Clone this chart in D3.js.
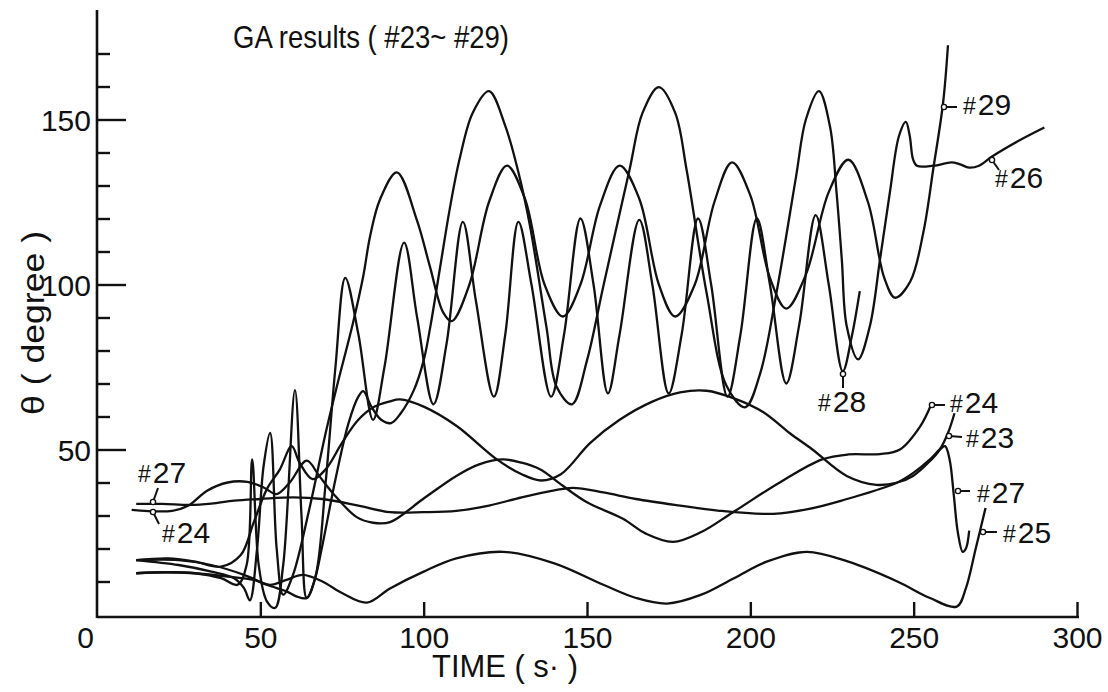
<!DOCTYPE html>
<html>
<head>
<meta charset="utf-8">
<script src="https://cdn.jsdelivr.net/npm/d3@7"></script>
<style>
  html, body { margin: 0; padding: 0; background: #fff; }
  svg { display: block; }
  text { font-family: "Liberation Sans", Arial, sans-serif; fill: #111; }
</style>
</head>
<body>
<svg id="chart" width="1108" height="692"></svg>
<script>
// ---- data: [time (s), theta (degree)] ----
const run23 = [[12,16.5],[22,17],[30,16],[38,14.5],[44,18],[48,28],[52,38],[56,44],[59.6,51],[62,46],[66,41],[70,44],[75,52],[80,59],[85,63],[89.7,64.6],[92.7,65.2],[100,63],[110,57.2],[122.4,47],[130,42.5],[136,40.6],[142,42.5],[151,52],[160,59],[170,64.5],[178.5,67.3],[186.6,67.8],[195,65.5],[204,61.3],[212,55],[219,50],[229.5,42],[238.6,39.3],[245,40],[249.8,42],[255,46.5],[258,50],[260.5,55],[262.5,61]];
const run24 = [[10.6,31.7],[23,31.4],[28,33],[33.7,37.5],[40,40],[46,40.2],[51,38.5],[55,36.5],[59,40],[64.2,46.6],[68,42],[72,37],[79.5,29.5],[84.5,27.8],[89.7,28],[99.8,35],[110,42],[117,45.5],[124.3,47],[130,46],[135.6,44],[142.6,39],[150,34],[161,29],[168,24.5],[176.3,22],[185,25],[194.7,31],[209,40],[222,47],[230,48.5],[239.7,48.6],[245.8,50],[252,57],[255.4,63.7]];
const run25 = [[12,12.5],[20,12.8],[30,12.5],[40,11.5],[48,10.5],[53,9],[58,10.5],[63,12],[69,10],[75,6.5],[82.6,3.6],[89.7,7.9],[100,13],[110,17],[124.3,19],[140,15.5],[155,9],[165,5],[174.5,3.3],[185,6],[195,11],[205,16],[217.3,19],[230,16],[245,10],[255,5],[263.2,2.4],[266,8],[269,20],[272,32.3]];
const run26 = [[12,16.5],[25,16.5],[35,15],[45,12],[52,9],[58,7],[61,5.5],[64.2,5],[66.5,10],[69,21],[73,41],[77,58],[80,66],[81.5,67.7],[84,63],[87,59],[90,58],[93,61],[97,68],[100,77],[102,87],[105,105],[108,123],[111,138],[115,152],[120,158.6],[125,148],[129,134],[132.5,118],[137.6,87],[140.7,69],[145.4,63.7],[150,77],[155,99.5],[163,134.7],[167,152],[172,159.8],[177,152],[180.5,134.7],[186.6,97.5],[192.7,69.3],[198.4,62.8],[203,73],[208,97.5],[214,132.7],[217,150],[221,158.6],[224.4,147.8],[226.4,127.8],[228,107.6],[229.5,87.4],[233,77.3],[236.6,87.4],[239.7,107.6],[242.7,127.8],[245.5,145],[247.6,149.3],[248.8,145],[249.8,138],[251,136],[256,136],[261.6,137],[264,136.5],[267,135.4],[270,136],[274,138.8],[282,143.5],[290,147.6]];
const run27 = [[12,33.5],[20,33.5],[28.5,33.2],[35,33.6],[42,34.5],[50,35],[60,35.5],[69,35],[80,33],[89.7,31],[100,31],[110,31.4],[120,33],[130,35.5],[140,37.6],[145.7,38.4],[155,37],[165,35],[178.5,33],[190,31.5],[207,30.5],[218,32],[229.6,35],[238,37.5],[245,40],[250,43],[255,47],[258,50],[259.6,51],[261,47],[262.3,36],[263.5,25],[265,19],[266,20],[267,25.4]];
const run28 = [[12,12.5],[22,12.8],[30,12.5],[38,11],[43,9],[45.8,15],[47.5,47],[49.5,15],[52,4],[54.5,2],[57,15],[60.6,68],[62.6,30],[64.2,5],[67,12],[70,40],[73,75],[76,102],[80,85],[84.5,59],[88,75],[94,112.7],[98,90],[103,63.7],[107,82],[112,119],[116,95],[121.5,66],[125,85],[129,119],[133,100],[139,66],[143,85],[148,120],[152,100],[156.4,67],[160,85],[166,119.6],[170,100],[175,67],[179,85],[184,120],[188,100],[193,66],[197,85],[202,120],[206,100],[211,70],[215,88],[220,121],[224,100],[228.3,73.7],[231,84],[233.5,98]];
const run29 = [[12,16.5],[25,15],[35,13],[42,11],[45,8],[46.8,4.3],[49,20],[51,45],[53,55],[55,20],[57,6],[60,12],[65,32],[70,55],[73.4,69],[78.4,88.5],[81.5,102.5],[83.6,114.6],[86.6,125.7],[91.8,134],[97.9,119.6],[101.9,105.5],[106,91.5],[108.6,88.9],[114,100],[120,125],[125.5,136],[131,126],[137,100],[142.6,90.3],[148,100],[154,124],[160,136],[166,126],[172,100],[177,90.3],[183,100],[189,125],[194.4,137],[200,127],[206,102],[211,92.7],[217,103],[224,128],[230,137.8],[236,125],[241,102],[244.3,96],[249,101],[253,116],[256,135],[259,155],[260.5,172.5]];

const series = [run23, run24, run25, run26, run27, run28, run29];

// curve labels: name, text position (px) and the little pointer mark (px)
const labels = [
  { name: "29", tx: 963, ty: 115, mark: [[944,107],[957,107]] },
  { name: "26", tx: 995, ty: 188, mark: [[992,160],[999,170]] },
  { name: "28", tx: 818, ty: 412, mark: [[843,374],[843,388]] },
  { name: "24", tx: 950, ty: 413, mark: [[932,405],[945,405]] },
  { name: "23", tx: 966, ty: 448, mark: [[949,436],[962,437]] },
  { name: "27", tx: 977, ty: 503, mark: [[958,491],[970,491]] },
  { name: "25", tx: 1003, ty: 543, mark: [[983,532],[997,532]] },
  { name: "27", tx: 138, ty: 483, mark: [[153,502],[158,488]] },
  { name: "24", tx: 162, ty: 543, mark: [[153,512],[159,524]] }
];

const xMajor = [0, 50, 100, 150, 200, 250, 300];
const yMajor = [50, 100, 150];
const yMinor = [10, 20, 30, 40, 60, 70, 80, 90, 110, 120, 130, 140, 160, 170];

const svg = d3.select("#chart");

const x = d3.scaleLinear().domain([0, 300]).range([97, 1077]);
const y = d3.scaleLinear().domain([0, 180]).range([614.5, 20.5]);

const AX_Y = 617;   // x-axis baseline (px)

// axes lines
svg.append("line")
  .attr("x1", x(0)).attr("x2", x(300) + 2)
  .attr("y1", AX_Y).attr("y2", AX_Y)
  .attr("stroke", "#111").attr("stroke-width", 2.6);
svg.append("line")
  .attr("x1", x(0)).attr("x2", x(0))
  .attr("y1", AX_Y + 1).attr("y2", 10)
  .attr("stroke", "#111").attr("stroke-width", 2.6);

// y ticks (pointing inward)
const yMinAx = svg.append("g").attr("transform", `translate(${x(0)},0)`)
  .call(d3.axisRight(y).tickValues(yMinor).tickSize(13).tickFormat(""));
const yMajAx = svg.append("g").attr("transform", `translate(${x(0)},0)`)
  .call(d3.axisRight(y).tickValues(yMajor).tickSize(29).tickFormat(""));
[yMinAx, yMajAx].forEach(g => {
  g.select(".domain").remove();
  g.selectAll(".tick line").attr("stroke", "#111").attr("stroke-width", 2.4);
});

// y tick labels
const yLab = svg.append("g").attr("transform", `translate(${x(0) - 6},0)`)
  .call(d3.axisLeft(y).tickValues(yMajor).tickSize(0).tickPadding(0));
yLab.select(".domain").remove();
yLab.selectAll("text")
  .style("font-family", "'Liberation Sans', Arial, sans-serif")
  .attr("font-size", 30).attr("fill", "#111").attr("dy", "0.36em");

// x ticks (pointing up)
const xAx = svg.append("g").attr("transform", `translate(0,${AX_Y})`)
  .call(d3.axisTop(x).tickValues(xMajor.filter(d => d > 0)).tickSize(15).tickFormat(""));
xAx.select(".domain").remove();
xAx.selectAll(".tick line").attr("stroke", "#111").attr("stroke-width", 2.4);

// x tick labels
const xLab = svg.append("g").attr("transform", `translate(0,${AX_Y})`)
  .call(d3.axisBottom(x).tickValues(xMajor).tickSize(0).tickPadding(0));
xLab.select(".domain").remove();
xLab.selectAll("text")
  .style("font-family", "'Liberation Sans', Arial, sans-serif")
  .attr("font-size", 30).attr("fill", "#111").attr("dy", 31)
  .attr("dx", d => d === 0 ? -12 : 0);

// axis titles
svg.append("text").attr("x", 432).attr("y", 677)
  .attr("font-size", 31).attr("textLength", 146).attr("lengthAdjust", "spacingAndGlyphs")
  .text("TIME ( s· )");
svg.append("text")
  .attr("transform", "translate(44,415) rotate(-90)")
  .attr("font-size", 31).attr("textLength", 184).attr("lengthAdjust", "spacingAndGlyphs")
  .text("θ ( degree )");

// title
svg.append("text").attr("x", 233).attr("y", 48)
  .attr("font-size", 32).attr("textLength", 276).attr("lengthAdjust", "spacingAndGlyphs")
  .text("GA  results ( #23~ #29)");

// curves
const line = d3.line()
  .x(d => x(d[0])).y(d => y(d[1]))
  .curve(d3.curveCatmullRom.alpha(0.5));

svg.append("g").selectAll("path").data(series).join("path")
  .attr("d", line)
  .attr("fill", "none")
  .attr("stroke", "#111")
  .attr("stroke-width", 2.3)
  .attr("stroke-linejoin", "round");

// curve labels with small pointer marks
const lg = svg.append("g");
labels.forEach(l => {
  const [p0, p1] = l.mark;
  lg.append("line").attr("x1", p0[0]).attr("y1", p0[1]).attr("x2", p1[0]).attr("y2", p1[1])
    .attr("stroke", "#111").attr("stroke-width", 2);
  lg.append("circle").attr("cx", p0[0]).attr("cy", p0[1]).attr("r", 2.6)
    .attr("fill", "#fff").attr("stroke", "#111").attr("stroke-width", 1.4);
  const t = lg.append("text").attr("x", l.tx).attr("y", l.ty).attr("font-size", 30);
  t.append("tspan").attr("font-size", 23).attr("dy", -1).text("#");
  t.append("tspan").attr("dx", 2).attr("dy", 1).text(l.name);
});
</script>
</body>
</html>
